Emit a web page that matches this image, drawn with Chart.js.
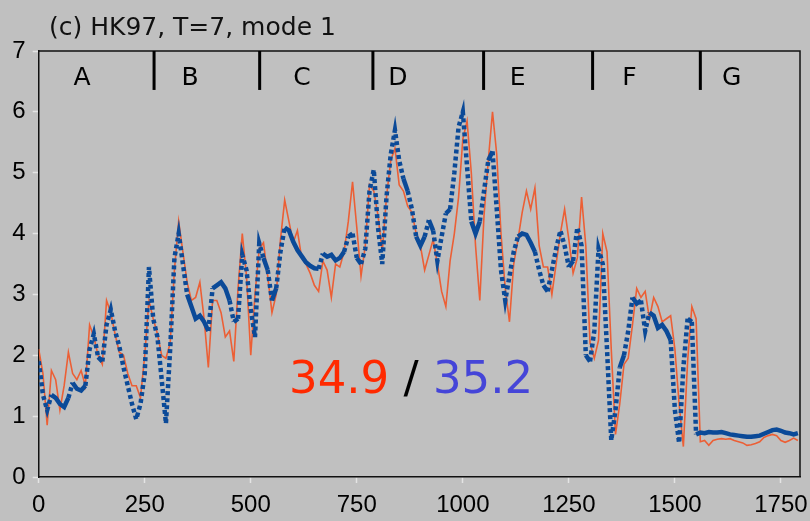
<!DOCTYPE html>
<html>
<head>
<meta charset="utf-8">
<script src="https://cdn.jsdelivr.net/npm/chart.js@4/dist/chart.umd.min.js"></script>
<style>
  html, body { margin: 0; padding: 0; background: #c0c0c0; }
  canvas { display: block; }
</style>
</head>
<body>
<canvas id="chart" width="810" height="521"></canvas>
<script>
// time index (every 10 steps)
const steps = Array.from({ length: 180 }, (_, i) => i * 10);
const xTickValues = [0, 250, 500, 750, 1000, 1250, 1500, 1750];

// blue series (thick, dashed on big jumps)
const blueValues = [
  1.9, 1.35, 1.1, 1.35, 1.3, 1.2, 1.15, 1.3, 1.55, 1.45,
  1.42, 1.5, 2.1, 2.35, 1.97, 1.9, 2.5, 2.75, 2.4, 2.15,
  1.8, 1.5, 1.2, 0.95, 1.2, 1.7, 3.45, 2.6, 2.3, 1.6,
  0.88, 2.1, 3.6, 4.0, 3.5, 3.0, 2.8, 2.6, 2.65, 2.55,
  2.4, 3.1, 3.15, 3.2, 3.1, 2.9, 2.55, 2.6, 3.65, 3.4,
  2.75, 2.3, 3.84, 3.6, 3.4, 2.9, 3.1, 3.7, 4.1, 4.05,
  3.87, 3.73, 3.63, 3.53, 3.47, 3.43, 3.42, 3.67, 3.62, 3.65,
  3.56, 3.6, 3.7, 3.95, 4.0, 3.6, 3.5, 3.75, 4.7, 5.05,
  4.1, 3.5, 4.6, 5.3, 5.7, 5.2, 4.9, 4.7, 4.4, 3.95,
  3.8, 3.95, 4.22, 4.05, 3.55, 3.95, 4.33, 4.4, 5.0, 5.75,
  6.0, 5.1, 4.2, 4.0, 4.2, 4.7, 5.2, 5.35, 4.4, 3.4,
  2.9, 3.3, 3.7, 3.95, 4.0, 3.98, 3.85, 3.7, 3.4, 3.15,
  3.05, 3.4, 3.75, 4.05, 3.8, 3.45, 3.55, 4.1, 3.8, 2.0,
  1.9, 2.4, 3.75, 3.5, 2.1, 0.6, 1.1, 1.8, 2.0, 2.4,
  2.95, 2.85, 2.9, 2.4, 2.7, 2.65, 2.45, 2.5, 2.4, 2.25,
  1.1, 0.56, 1.8, 2.6, 2.55, 0.7, 0.73, 0.72, 0.74, 0.73,
  0.73, 0.74, 0.72, 0.7, 0.69, 0.68, 0.67, 0.66, 0.66, 0.67,
  0.68, 0.71, 0.74, 0.77, 0.78, 0.76, 0.73, 0.72, 0.7, 0.72
];

// orange series (thin)
const orangeValues = [
  2.1, 1.7, 0.85, 1.75, 1.6, 1.1, 1.5, 2.05, 1.7, 1.6,
  1.75, 1.5, 2.5, 2.3, 2.0, 1.85, 2.9, 2.7, 2.35, 2.05,
  2.0, 1.7, 1.5, 1.5, 1.3, 2.0, 2.9, 2.6, 2.35, 2.0,
  1.95, 2.2, 3.4, 4.2, 3.7, 3.2, 2.9, 2.95, 3.2, 2.6,
  1.8, 2.9, 2.9, 2.7, 2.3, 2.4, 1.9, 3.1, 4.0, 3.3,
  2.0, 3.0, 3.75, 3.85, 3.3, 2.7, 3.0, 3.9, 4.55, 4.2,
  3.85, 4.05, 3.6, 3.5, 3.35, 3.15, 3.05, 3.55, 3.4, 2.95,
  3.5, 3.45, 3.7, 4.2, 4.85, 4.1, 3.3, 3.8, 4.8, 4.7,
  4.3, 3.7, 4.6, 5.2, 5.4, 4.8, 4.7, 4.45, 4.35, 4.0,
  3.8, 3.4, 3.65, 3.9, 3.5, 3.05, 2.8, 3.55, 4.0, 4.6,
  5.55, 5.85, 5.0, 3.8, 2.9, 4.3, 5.2, 6.0, 5.3, 4.0,
  3.1, 2.55, 3.5, 3.9, 4.35, 4.7, 4.4, 4.75, 3.8, 3.45,
  3.45, 3.0, 3.5, 4.0, 4.4, 3.9, 3.35, 3.6, 4.6, 3.8,
  2.2, 1.95, 2.25, 4.0, 3.7, 2.1, 0.7, 1.2, 1.85, 1.95,
  2.5, 3.1, 2.95, 3.05, 2.6, 2.95, 2.8, 2.55, 2.6, 2.65,
  2.1, 1.2, 0.5, 1.9, 2.8, 2.6, 0.58, 0.6, 0.52, 0.6,
  0.62, 0.63, 0.62, 0.63, 0.6, 0.58, 0.56, 0.52, 0.53, 0.55,
  0.58, 0.65, 0.68, 0.7, 0.68, 0.6, 0.57, 0.6, 0.64, 0.6
];

// segments along the top
const segmentBounds = [272, 521, 788, 1049, 1306, 1560];
const segmentNames = ["A", "B", "C", "D", "E", "F", "G"];
const segmentLabelX = [102, 357, 621, 847, 1129, 1393, 1634];

const titleText = "(c) HK97, T=7, mode 1";
const scoreRed = "34.9";
const scoreBlue = "35.2";

const toPoints = vals => vals.map((v, i) => ({ x: steps[i], y: v }));

const decorPlugin = {
  id: "decor",
  beforeDraw(chart) {
    const ctx = chart.ctx;
    ctx.save();
    ctx.fillStyle = "#c0c0c0";
    ctx.fillRect(0, 0, chart.width, chart.height);
    ctx.restore();
  },
  afterDraw(chart) {
    const ctx = chart.ctx;
    const a = chart.chartArea;
    const xs = chart.scales.x, ys = chart.scales.y;
    ctx.save();

    // box: top and right edges
    ctx.strokeStyle = "#111";
    ctx.lineWidth = 1.5;
    ctx.beginPath();
    ctx.moveTo(a.left, a.top);
    ctx.lineTo(a.right, a.top);
    ctx.lineTo(a.right, a.bottom);
    ctx.stroke();

    // segment dividers
    ctx.lineWidth = 3;
    ctx.strokeStyle = "#000";
    segmentBounds.forEach(b => {
      const px = xs.getPixelForValue(b);
      ctx.beginPath();
      ctx.moveTo(px, ys.getPixelForValue(7));
      ctx.lineTo(px, ys.getPixelForValue(6.36));
      ctx.stroke();
    });

    // segment letters
    ctx.fillStyle = "#000";
    ctx.font = "25px 'DejaVu Sans'";
    ctx.textAlign = "center";
    ctx.textBaseline = "alphabetic";
    segmentNames.forEach((n, i) => {
      ctx.fillText(n, xs.getPixelForValue(segmentLabelX[i]), ys.getPixelForValue(6.44));
    });

    // title
    ctx.textAlign = "left";
    ctx.fillStyle = "#111";
    ctx.font = "25px 'DejaVu Sans'";
    ctx.fillText(titleText, 49, 35);

    // scores
    ctx.font = "45px 'DejaVu Sans'";
    let x = 289;
    const y = 393;
    ctx.fillStyle = "#ff2a00";
    ctx.fillText(scoreRed, x, y);
    x += ctx.measureText(scoreRed + " ").width;
    ctx.fillStyle = "#000";
    ctx.fillText("/", x, y);
    x += ctx.measureText("/ ").width;
    ctx.fillStyle = "#4545d8";
    ctx.fillText(scoreBlue, x, y);

    ctx.restore();
  }
};

const longSeg = ctx => {
  const dx = ctx.p1.x - ctx.p0.x, dy = ctx.p1.y - ctx.p0.y;
  return Math.hypot(dx, dy) > 14 ? [4, 3] : undefined;
};

new Chart(document.getElementById("chart"), {
  type: "line",
  data: {
    datasets: [
      {
        label: "blue",
        data: toPoints(blueValues),
        borderColor: "#0b4a98",
        borderWidth: 4.5,
        pointRadius: 0,
        tension: 0,
        segment: { borderDash: longSeg }
      },
      {
        label: "orange",
        data: toPoints(orangeValues),
        borderColor: "#ec5f35",
        borderWidth: 1.6,
        pointRadius: 0,
        tension: 0
      }
    ]
  },
  options: {
    responsive: false,
    animation: false,
    layout: { padding: { left: 0, right: 10, top: 51, bottom: 0 } },
    plugins: { legend: { display: false }, tooltip: { enabled: false }, title: { display: false } },
    scales: {
      x: {
        type: "linear",
        min: 0,
        max: 1795,
        afterBuildTicks: s => { s.ticks = xTickValues.map(v => ({ value: v })); },
        afterFit: s => { s.height = 44; s.paddingLeft = 0; s.paddingRight = 0; },
        border: { color: "#111", width: 1.5 },
        grid: { drawOnChartArea: false, drawTicks: true, tickLength: 6, tickColor: "#e4e4e4", tickWidth: 1.5 },
        ticks: {
          padding: 8,
          color: "#000",
          font: { family: "'Liberation Sans', Arial", size: 24 },
          maxRotation: 0,
          autoSkip: false,
          callback: v => String(v)
        }
      },
      y: {
        min: 0,
        max: 7,
        afterFit: s => { s.width = 38.7; s.paddingTop = 0; s.paddingBottom = 0; },
        border: { color: "#111", width: 1.5 },
        grid: { drawOnChartArea: false, drawTicks: true, tickLength: 6, tickColor: "#e4e4e4", tickWidth: 1.5 },
        ticks: {
          stepSize: 1,
          padding: 7,
          color: "#000",
          font: { family: "'Liberation Sans', Arial", size: 24 }
        }
      }
    }
  },
  plugins: [decorPlugin]
});
</script>
</body>
</html>
